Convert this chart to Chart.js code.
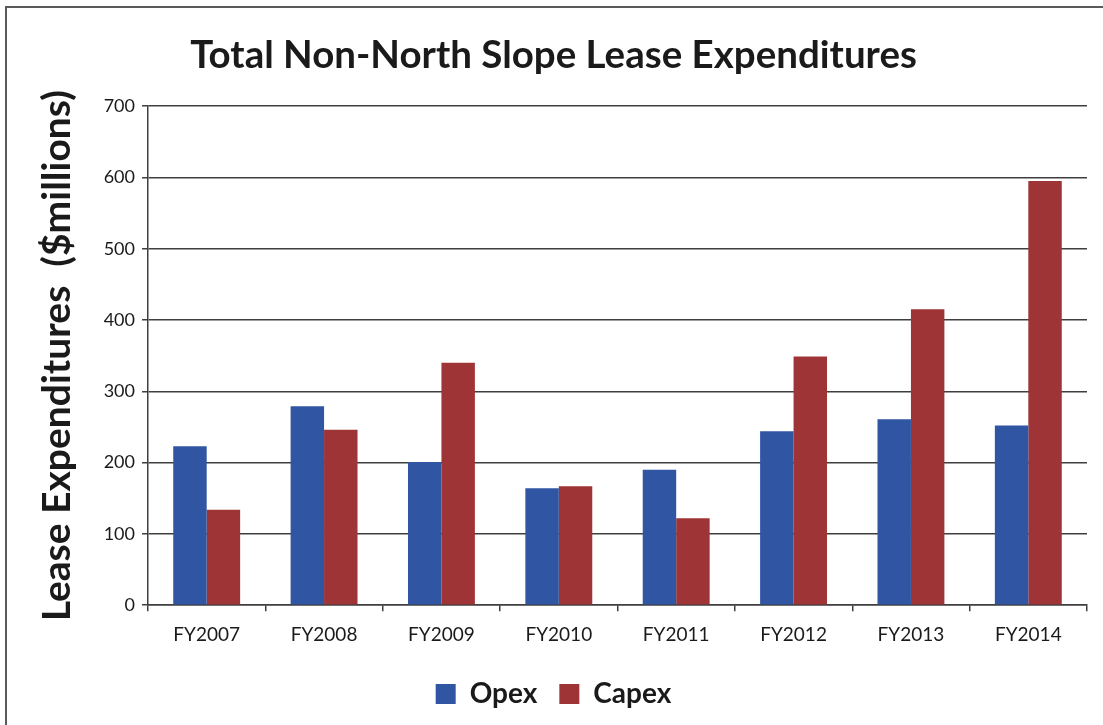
<!DOCTYPE html>
<html>
<head>
<meta charset="utf-8">
<script src="https://cdn.jsdelivr.net/npm/chart.js@4.4.1/dist/chart.umd.min.js"></script>
<style>
  html, body { margin: 0; padding: 0; background: #ffffff; }
  #wrap { position: relative; width: 1103px; height: 725px; overflow: hidden; }
  #frame { position: absolute; left: 5px; top: 6px; right: -10px; bottom: -10px; border-top: 2px solid #5a5a5a; border-left: 2px solid #5a5a5a; }
  canvas { position: absolute; left: 0; top: 0; }
</style>
</head>
<body>
<div id="wrap">
  <div id="frame"></div>
  <canvas id="c" width="1103" height="725"></canvas>
</div>
<script>
const categories = ["FY2007", "FY2008", "FY2009", "FY2010", "FY2011", "FY2012", "FY2013", "FY2014"];
const opex  = [223, 279, 201, 164, 190, 244, 261, 252];
const capex = [134, 246, 340, 167, 122, 349, 415, 595];
const seriesNames = ["Opex", "Capex"];
const yTicks = [0, 100, 200, 300, 400, 500, 600, 700];

const FONT = "Lato, 'Open Sans', sans-serif";
const GRID = "#3f3f3f";

new Chart(document.getElementById("c"), {
  type: "bar",
  data: {
    labels: categories,
    datasets: [
      { label: seriesNames[0], data: opex, backgroundColor: "#2f55a3", borderWidth: 0 },
      { label: seriesNames[1], data: capex, backgroundColor: "#9e3436", borderWidth: 0 }
    ]
  },
  options: {
    responsive: false,
    animation: false,
    devicePixelRatio: 1,
    layout: { padding: { left: 20, right: 16, top: 12, bottom: 7 } },
    datasets: { bar: { barPercentage: 1.0, categoryPercentage: 0.57 } },
    plugins: {
      tooltip: { enabled: false },
      title: {
        display: true,
        text: "Total Non-North Slope Lease Expenditures",
        color: "#1a1a1a",
        font: { family: FONT, size: 38.5, weight: "bold" },
        padding: { top: 20, bottom: 28 }
      },
      legend: {
        display: true,
        position: "bottom",
        labels: {
          color: "#1a1a1a",
          font: { family: FONT, size: 28, weight: "bold" },
          boxWidth: 20,
          boxHeight: 20,
          padding: 22
        }
      }
    },
    scales: {
      x: {
        grid: { display: true, drawOnChartArea: false, drawTicks: true, tickLength: 6, color: GRID, lineWidth: 1.5 },
        border: { display: true, color: GRID, width: 1.5 },
        ticks: { color: "#1a1a1a", font: { family: FONT, size: 19 }, padding: 12, maxRotation: 0 }
      },
      y: {
        min: 0,
        max: 700,
        afterBuildTicks: (s) => { s.ticks = yTicks.map(v => ({ value: v })); },
        afterFit: (s) => { s.width = 128; },
        grid: { display: true, drawTicks: true, tickLength: 6, color: GRID, lineWidth: 1.5 },
        border: { display: true, color: GRID, width: 1.5 },
        ticks: { color: "#1a1a1a", font: { family: FONT, size: 18 }, padding: 7 },
        title: {
          display: true,
          text: "Lease Expenditures  ($millions)",
          color: "#1a1a1a",
          font: { family: FONT, size: 39, weight: "bold" },
          padding: { top: 14, bottom: 0 }
        }
      }
    }
  }
});
</script>
</body>
</html>
